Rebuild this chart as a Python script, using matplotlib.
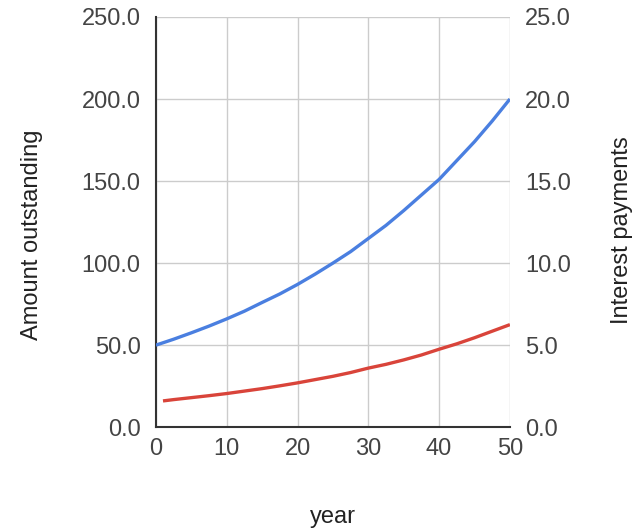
import matplotlib.pyplot as plt
from matplotlib.ticker import FormatStrFormatter

# amount outstanding (left axis) and yearly interest (right axis)
years = [0, 2.5, 5, 7.5, 10, 12.5, 15, 17.5, 20, 22.5, 25,
         27.5, 30, 32.5, 35, 37.5, 40, 42.5, 45, 47.5, 50]
amount = [50, 53.6, 57.5, 61.6, 66, 70.7, 76, 81.2, 87, 93.3, 100,
          107, 115, 123, 132, 141.5, 151, 162.5, 174, 186.6, 200]
int_years = [1, 2.5, 5, 7.5, 10, 12.5, 15, 17.5, 20, 22.5, 25,
             27.5, 30, 32.5, 35, 37.5, 40, 42.5, 45, 47.5, 50]
interest = [1.6, 1.68, 1.8, 1.92, 2.05, 2.2, 2.35, 2.52, 2.7, 2.9, 3.1,
            3.33, 3.6, 3.83, 4.1, 4.4, 4.75, 5.08, 5.45, 5.85, 6.25]

plt.rcParams['font.family'] = ['Liberation Sans', 'DejaVu Sans']
txt = '#444444'

fig = plt.figure(figsize=(6.39, 5.30), dpi=100)
ax = fig.add_axes([0.244, 0.194, 0.554, 0.774])
ax2 = ax.twinx()

ax.plot(years, amount, color='#4a7fe0', lw=2.4, solid_capstyle='butt',
        solid_joinstyle='round', zorder=3)
ax2.plot(int_years, interest, color='#d9443a', lw=2.4, solid_capstyle='butt',
         solid_joinstyle='round', zorder=3)

ax.set_xlim(0, 50)
ax.set_ylim(0, 250)
ax2.set_ylim(0, 25)
ax.set_xticks([0, 10, 20, 30, 40, 50])
ax.set_yticks([0, 50, 100, 150, 200, 250])
ax2.set_yticks([0, 5, 10, 15, 20, 25])
ax.yaxis.set_major_formatter(FormatStrFormatter('%.1f'))
ax2.yaxis.set_major_formatter(FormatStrFormatter('%.1f'))

ax.grid(True, color='#cccccc', lw=1)
ax.set_axisbelow(True)
for a in (ax, ax2):
    for s in a.spines.values():
        s.set_visible(False)
for side in ('left', 'bottom'):
    ax.spines[side].set_visible(True)
    ax.spines[side].set_color('#333333')
    ax.spines[side].set_linewidth(1.5)

ax.tick_params(axis='both', length=0, labelsize=17, colors=txt)
ax.tick_params(axis='y', pad=11)
ax.tick_params(axis='x', pad=8)
ax2.tick_params(axis='y', length=0, labelsize=17, colors=txt, pad=11)

# axis titles placed in figure coordinates
fig.text(0.521, 0.0245, 'year', fontsize=17, color='#222222',
         ha='center', va='center')
fig.text(0.050, 0.557, 'Amount outstanding', fontsize=17, color='#222222',
         ha='center', va='center', rotation=90)
fig.text(0.973, 0.566, 'Interest payments', fontsize=17, color='#222222',
         ha='center', va='center', rotation=90)

fig.savefig('out.png', dpi=100)
